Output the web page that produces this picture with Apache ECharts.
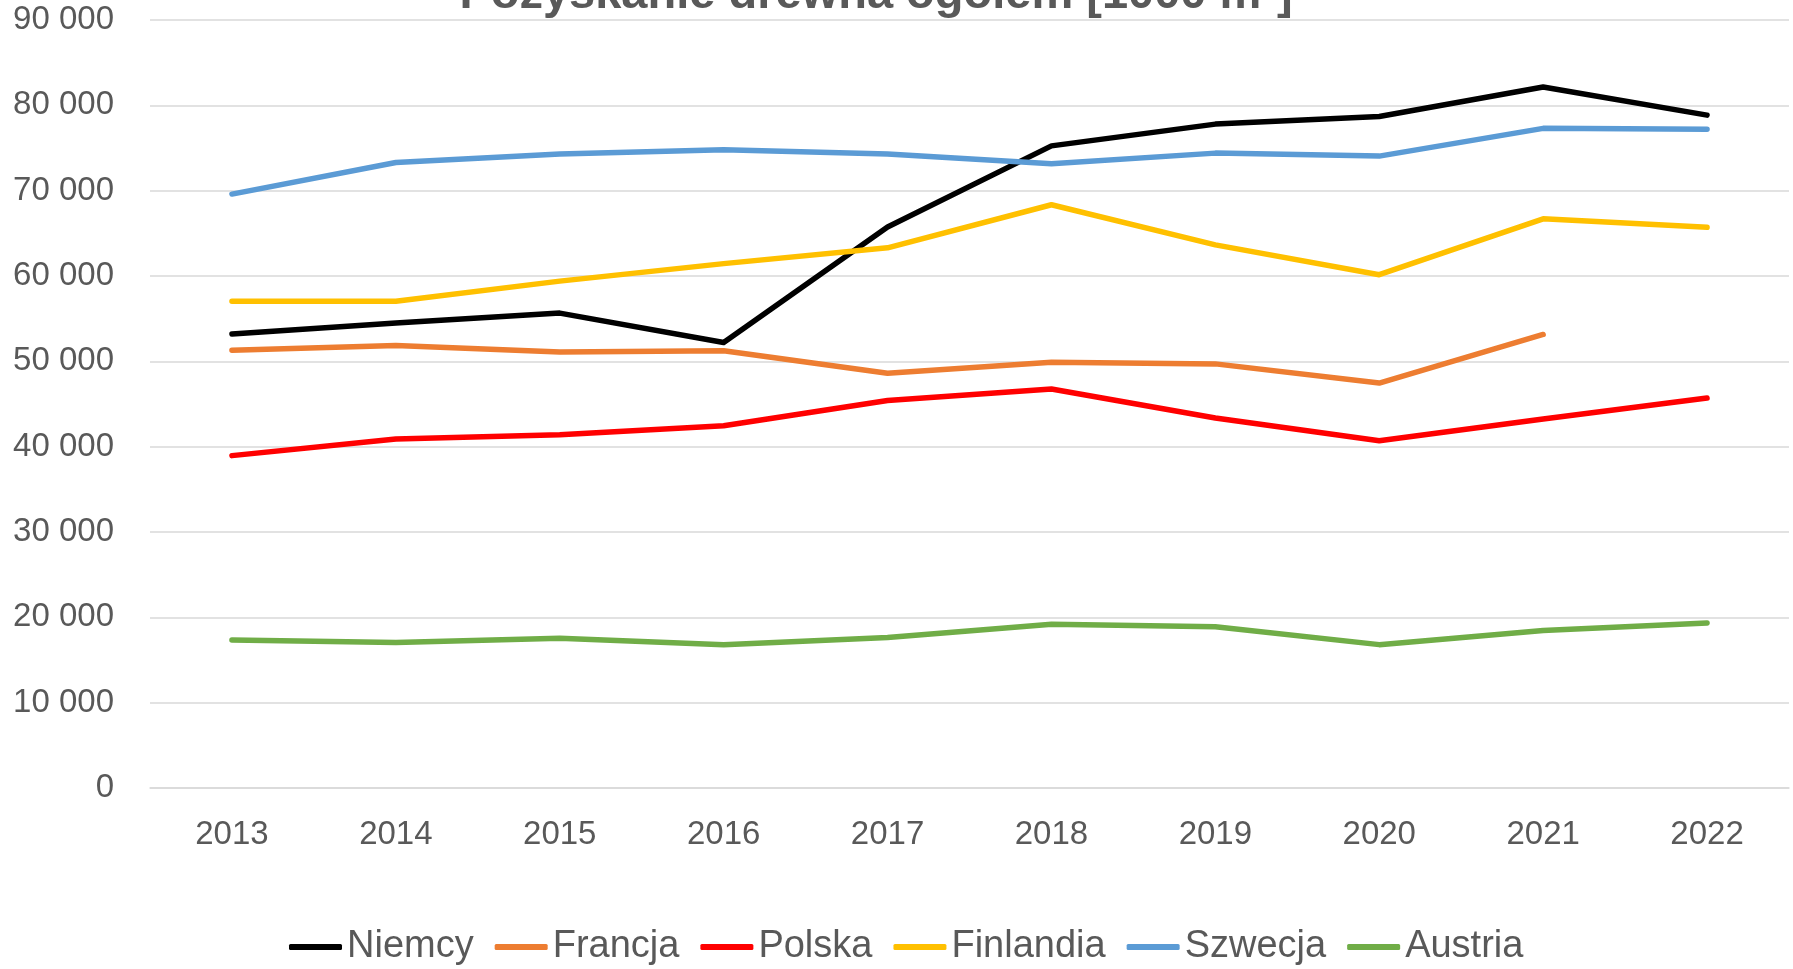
<!DOCTYPE html>
<html><head><meta charset="utf-8">
<script src="https://cdn.jsdelivr.net/npm/echarts@6/dist/echarts.min.js"></script>
<style>html,body{margin:0;padding:0;background:#fff}#c{width:1793px;height:969px}</style>
</head><body><div id="c"></div>
<script>
const years = ['2013','2014','2015','2016','2017','2018','2019','2020','2021','2022'];
const niemcy    = [53200, 54500, 55650, 52200, 65750, 75250, 77800, 78700, 82150, 78850];
const francja   = [51300, 51850, 51100, 51250, 48600, 49900, 49700, 47450, 53150, null];
const polska    = [38950, 40900, 41400, 42450, 45400, 46750, 43350, 40700, 43250, 45700];
const finlandia = [57050, 57050, 59400, 61450, 63300, 68350, 63650, 60150, 66700, 65700];
const szwecja   = [69600, 73300, 74300, 74800, 74300, 73150, 74400, 74050, 77300, 77200];
const austria   = [17350, 17050, 17550, 16800, 17650, 19200, 18900, 16800, 18450, 19350];
const yTicks = [0, 90000, 10000];

const names = ['Niemcy','Francja','Polska','Finlandia','Szwecja','Austria'];
const colors = ['#000000','#ED7D31','#FF0000','#FFC000','#5B9BD5','#70AD47'];
const dataSets = [niemcy, francja, polska, finlandia, szwecja, austria];
const font = 'Liberation Sans, Arial, sans-serif';

const chart = echarts.init(document.getElementById('c'), null, {renderer:'canvas'});
chart.setOption({
  animation:false,
  color: colors,
  title:{
    text:'Pozyskanie drewna ogółem [1000 m³]',
    left: 876, textAlign:'center', top:-28, padding:0,
    textStyle:{fontFamily:font, fontSize:47, fontWeight:'bold', color:'#595959'}
  },
  grid:{left:150, right:4, top:20, bottom:181, containLabel:false},
  legend:{
    data: names.map((n,i)=>({name:n, icon:'roundRect', itemStyle:{color:colors[i]}})),
    left:289, top:928, padding:0, itemGap:21, itemWidth:53, itemHeight:6,
    textStyle:{fontFamily:font, fontSize:38, color:'#595959'}
  },
  xAxis:{
    type:'category', data: years, boundaryGap:true,
    axisLine:{lineStyle:{color:'#D9D9D9', width:1.5}},
    axisTick:{show:false},
    axisLabel:{fontFamily:font, fontSize:33, color:'#595959', margin:30}
  },
  yAxis:{
    type:'value', min:yTicks[0], max:yTicks[1], interval:yTicks[2],
    axisLine:{show:false}, axisTick:{show:false},
    splitLine:{lineStyle:{color:'#D9D9D9', width:1.5}},
    axisLabel:{fontFamily:font, fontSize:33, color:'#595959', margin:36,
      formatter: v => String(v).replace(/\B(?=(\d{3})+(?!\d))/g, ' ')}
  },
  series: names.map((n,i)=>({
    name:n, type:'line', data:dataSets[i], symbol:'none', connectNulls:false,
    lineStyle:{width:5.5, color:colors[i], cap:'round', join:'round'},
    itemStyle:{color:colors[i]}
  }))
});
</script></body></html>
